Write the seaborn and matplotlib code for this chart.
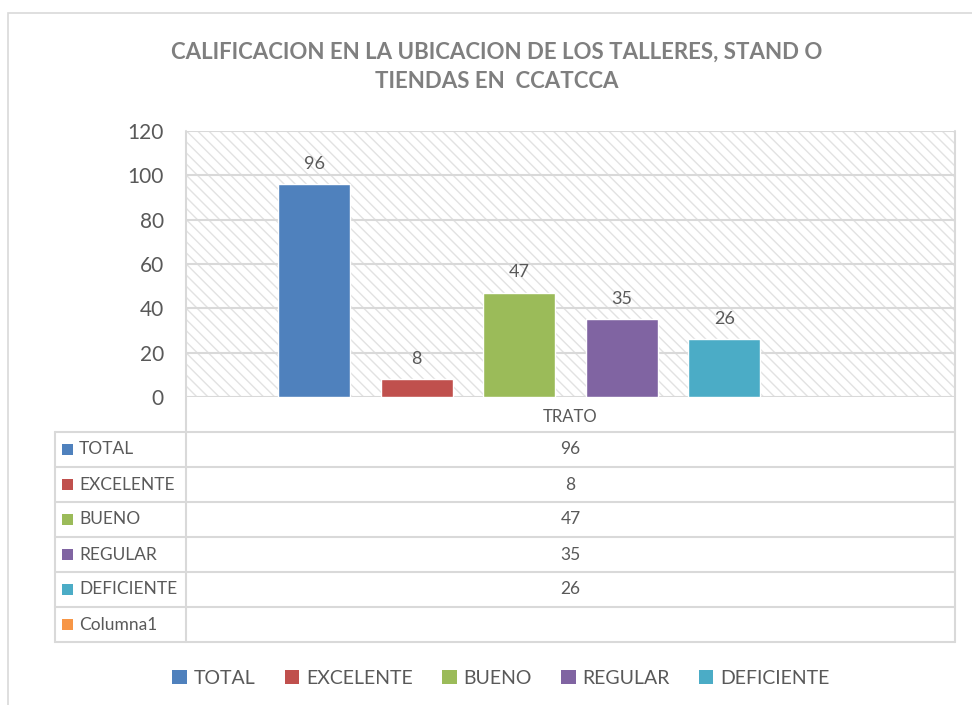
import matplotlib
matplotlib.use("Agg")
import matplotlib.pyplot as plt
from matplotlib.patches import Rectangle, Patch
from matplotlib.lines import Line2D
import seaborn as sns
import pandas as pd
import numpy as np

# ---- data ----
category = ["TRATO"]
series = ["TOTAL", "EXCELENTE", "BUENO", "REGULAR", "DEFICIENTE", "Columna1"]
values = [96, 8, 47, 35, 26, np.nan]
colors = ["#4f81bd", "#c0504d", "#9bbb59", "#8064a2", "#4bacc6", "#f79646"]
title = "CALIFICACION EN LA UBICACION DE LOS TALLERES, STAND O\nTIENDAS EN  CCATCCA"
yticks = [0, 20, 40, 60, 80, 100, 120]

sns.set_theme(style="white")
plt.rcParams['font.family'] = ['Lato', 'DejaVu Sans']
plt.rcParams['hatch.linewidth'] = 1.0
plt.rcParams['hatch.color'] = '#e2e2e2'

W, H = 972, 705
fig = plt.figure(figsize=(W / 100, H / 100), dpi=100)
fig.patch.set_facecolor("white")

def fx(px):
    return px / W

def fy(py):
    return 1 - py / H

GRID = "#d9d9d9"
TXT = "#595959"

# outer chart border
fig.patches.append(Rectangle((fx(8), fy(760)), fx(1100), (760 - 13) / H,
                             transform=fig.transFigure, fill=False,
                             edgecolor=GRID, lw=1.2, zorder=0))

L, R, T, B = 186, 955, 131, 397
ax = fig.add_axes([fx(L), fy(B), fx(R - L), (B - T) / H])

df = pd.DataFrame({"cat": category * len(series), "serie": series, "valor": values})
sns.barplot(data=df, x="cat", y="valor", hue="serie", hue_order=series,
            palette=colors, width=0.8, gap=0.3, ax=ax, legend=False,
            saturation=1, zorder=3)

# hatched background
ax.add_patch(Rectangle((0, 0), 1, 1, transform=ax.transAxes, facecolor="white",
                       edgecolor="#e2e2e2", hatch="\\\\\\", lw=0, zorder=0))

ax.set_ylim(0, 120)
ax.set_xlim(-0.5, 0.5)
ax.set_yticks(yticks)
ax.set_yticklabels([str(t) for t in yticks], fontsize=15, color=TXT)
ax.tick_params(axis="y", length=0, pad=16)
ax.tick_params(axis="x", length=0, pad=9, labelsize=12, labelcolor=TXT)
ax.set_xlabel("")
ax.set_ylabel("")
ax.yaxis.grid(True, color=GRID, lw=1.5, zorder=1)
ax.set_axisbelow(True)
for s in ["top", "bottom", "right", "left"]:
    ax.spines[s].set_visible(False)

# data labels
for cont in ax.containers:
    labs = ["" if (v is None or np.isnan(v)) else f"{v:.0f}" for v in cont.datavalues]
    ax.bar_label(cont, labels=labs, padding=9, fontsize=13, color=TXT)

# ---- data table ----
row_top = 432
row_h = 35
tab_bottom = row_top + row_h * len(series)
lines = []
lines.append(((L, L), (T, tab_bottom)))
lines.append(((R, R), (T, tab_bottom)))
lines.append(((55, 55), (row_top, tab_bottom)))
for i in range(len(series) + 1):
    y = row_top + i * row_h
    lines.append(((55, R), (y, y)))
for (xs, ys) in lines:
    fig.add_artist(Line2D([fx(xs[0]), fx(xs[1])], [fy(ys[0]), fy(ys[1])],
                          transform=fig.transFigure, color=GRID, lw=1.5))

for i, (s, v, c) in enumerate(zip(series, values, colors)):
    yc = row_top + i * row_h + row_h / 2
    fig.patches.append(Rectangle((fx(62), fy(yc + 5.5)), fx(11), 11 / H,
                                 transform=fig.transFigure, facecolor=c,
                                 edgecolor="none"))
    fig.text(fx(79), fy(yc), s, ha="left", va="center", fontsize=12.5, color=TXT)
    if not np.isnan(v):
        fig.text(fx((L + R) / 2), fy(yc), f"{v:.0f}", ha="center", va="center",
                 fontsize=12.5, color=TXT)

# title
fig.text(fx(497), fy(67), title, ha="center", va="center", fontsize=16,
         fontweight="bold", color="#7f7f7f", linespacing=1.45)

# bottom legend
handles = [Patch(facecolor=c, edgecolor="none") for c in colors[:5]]
fig.legend(handles, series[:5], loc="center", bbox_to_anchor=(fx(501), fy(678)),
           ncol=5, frameon=False, fontsize=14, handlelength=0.75, handleheight=0.75,
           handletextpad=0.35, columnspacing=1.5, labelcolor=TXT)

fig.savefig("out.png", dpi=100)
